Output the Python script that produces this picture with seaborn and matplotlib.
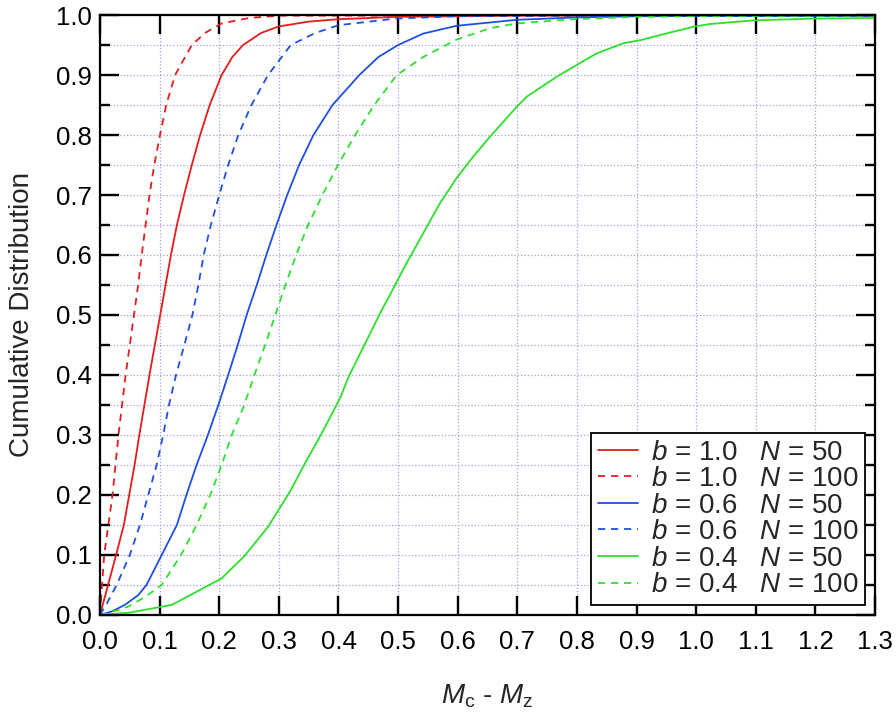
import numpy as np
import pandas as pd
import matplotlib
matplotlib.use("Agg")
import matplotlib.pyplot as plt
from matplotlib.ticker import MultipleLocator, FormatStrFormatter
import seaborn as sns

# b = 1.0, N = 50
x_b10_n50 = [0, 0.013, 0.027, 0.040, 0.049, 0.058, 0.066, 0.0745, 0.083, 0.092, 0.101, 0.110, 0.119,
             0.129, 0.141, 0.154, 0.168, 0.184, 0.204, 0.222, 0.240, 0.270, 0.300, 0.350, 0.400, 0.500,
             0.700, 1.300]
y_b10_n50 = [0, 0.048, 0.10, 0.15, 0.20, 0.25, 0.30, 0.35, 0.40, 0.45, 0.50, 0.55, 0.60,
             0.65, 0.70, 0.75, 0.80, 0.85, 0.90, 0.93, 0.95, 0.970, 0.981, 0.989, 0.993, 0.997,
             0.999, 0.999]
# b = 1.0, N = 100
x_b10_n100 = [0, 0.007, 0.021, 0.031, 0.043, 0.057, 0.064, 0.070, 0.0765, 0.083, 0.091, 0.1007, 0.111,
              0.126, 0.154, 0.176, 0.204, 0.250, 0.300, 1.300]
y_b10_n100 = [0, 0.10, 0.20, 0.30, 0.40, 0.50, 0.55, 0.60, 0.65, 0.70, 0.75, 0.80, 0.85,
              0.90, 0.95, 0.970, 0.986, 0.995, 0.999, 0.999]
# b = 0.6, N = 50
x_b06_n50 = [0, 0.020, 0.042, 0.064, 0.078, 0.1035, 0.129, 0.145, 0.162, 0.181, 0.1985, 0.215, 0.231,
             0.246, 0.263, 0.279, 0.296, 0.314, 0.334, 0.358, 0.390, 0.435, 0.467, 0.500, 0.542,
             0.598, 0.699, 0.800, 0.900, 1.300]
y_b06_n50 = [0, 0.006, 0.017, 0.033, 0.05, 0.10, 0.15, 0.20, 0.25, 0.30, 0.35, 0.40, 0.45,
             0.50, 0.55, 0.60, 0.65, 0.70, 0.75, 0.80, 0.85, 0.90, 0.930, 0.950, 0.969,
             0.982, 0.992, 0.996, 0.998, 0.999]
# b = 0.6, N = 100
x_b06_n100 = [0, 0.012, 0.028, 0.050, 0.067, 0.081, 0.095, 0.106, 0.1157, 0.1275, 0.1415, 0.155, 0.165,
              0.174, 0.186, 0.200, 0.215, 0.232, 0.254, 0.282, 0.320, 0.361, 0.400, 0.495, 0.600,
              0.800, 1.300]
y_b06_n100 = [0, 0.02, 0.05, 0.10, 0.15, 0.20, 0.25, 0.30, 0.35, 0.40, 0.45, 0.50, 0.55,
              0.60, 0.65, 0.70, 0.75, 0.80, 0.85, 0.90, 0.95, 0.970, 0.983, 0.994, 0.998,
              0.999, 0.999]
# b = 0.4, N = 50
x_b04_n50 = [0, 0.050, 0.121, 0.204, 0.242, 0.282, 0.320, 0.344, 0.372, 0.403, 0.417, 0.4725, 0.486,
             0.514, 0.542, 0.570, 0.598, 0.626, 0.654, 0.699, 0.716, 0.766, 0.800, 0.833, 0.878,
             0.906, 0.961, 0.998, 1.023, 1.096, 1.196, 1.300]
y_b04_n50 = [0, 0.004, 0.017, 0.061, 0.098, 0.147, 0.208, 0.253, 0.303, 0.362, 0.397, 0.508, 0.533,
             0.586, 0.636, 0.686, 0.728, 0.764, 0.797, 0.847, 0.864, 0.897, 0.917, 0.936, 0.953,
             0.958, 0.972, 0.981, 0.985, 0.991, 0.994, 0.995]
# b = 0.4, N = 100
x_b04_n100 = [0, 0.030, 0.0475, 0.0755, 0.1035, 0.136, 0.162, 0.185, 0.204, 0.221, 0.242, 0.259, 0.277,
              0.294, 0.311, 0.329, 0.349, 0.373, 0.399, 0.428, 0.460, 0.498, 0.542, 0.598, 0.654,
              0.699, 0.794, 0.900, 1.000, 1.300]
y_b04_n100 = [0, 0.008, 0.014, 0.030, 0.05, 0.10, 0.15, 0.20, 0.25, 0.30, 0.35, 0.40, 0.45,
              0.50, 0.55, 0.60, 0.65, 0.70, 0.75, 0.80, 0.85, 0.90, 0.930, 0.959, 0.978,
              0.986, 0.993, 0.997, 0.998, 0.999]

labels = [r"$b$ = 1.0   $N$ = 50", r"$b$ = 1.0   $N$ = 100",
          r"$b$ = 0.6   $N$ = 50", r"$b$ = 0.6   $N$ = 100",
          r"$b$ = 0.4   $N$ = 50", r"$b$ = 0.4   $N$ = 100"]
curves = [(x_b10_n50, y_b10_n50), (x_b10_n100, y_b10_n100),
          (x_b06_n50, y_b06_n50), (x_b06_n100, y_b06_n100),
          (x_b04_n50, y_b04_n50), (x_b04_n100, y_b04_n100)]
colors = ["#e41c1c", "#e41c1c", "#1f4fe0", "#1f4fe0", "#2ee02e", "#2ee02e"]
dashed = [False, True, False, True, False, True]

sns.set_style("ticks")
plt.rcParams["font.family"] = ["Liberation Sans", "DejaVu Sans"]
plt.rcParams["mathtext.fontset"] = "custom"
plt.rcParams["mathtext.rm"] = "Liberation Sans"
plt.rcParams["mathtext.it"] = "Liberation Sans:italic"
# inward ticks on all four sides
plt.rcParams.update({
    "xtick.direction": "in", "ytick.direction": "in",
    "xtick.top": True, "ytick.right": True,
    "xtick.major.size": 14, "ytick.major.size": 14,
    "xtick.minor.size": 7, "ytick.minor.size": 7,
    "xtick.major.width": 1.7, "ytick.major.width": 1.7,
    "xtick.minor.width": 1.7, "ytick.minor.width": 1.7,
    "xtick.color": "black", "ytick.color": "black",
})

fig = plt.figure(figsize=(8.96, 7.15), dpi=100)
ax = fig.add_axes([0.1116, 0.1399, 0.865, 0.8391])

for (xs, ys), lab, c, d in zip(curves, labels, colors, dashed):
    ls = (0, (4, 3.2)) if d else "-"
    sns.lineplot(x=xs, y=ys, ax=ax, color=c, linewidth=1.3, linestyle=ls, label=lab, sort=False)

ax.set_xlim(0, 1.3)
ax.set_ylim(0, 1.0)
ax.xaxis.set_major_locator(MultipleLocator(0.1))
ax.yaxis.set_major_locator(MultipleLocator(0.1))
ax.yaxis.set_minor_locator(MultipleLocator(0.05))
ax.xaxis.set_major_formatter(FormatStrFormatter("%.1f"))
ax.yaxis.set_major_formatter(FormatStrFormatter("%.1f"))

ax.grid(True, which="major", axis="x", linestyle=":", linewidth=0.9, color="#a0a0e6")
ax.grid(True, which="both", axis="y", linestyle=":", linewidth=0.9, color="#a0a0e6")

ax.tick_params(which="major", labelsize=18.5)
ax.tick_params(axis="x", pad=11)
ax.tick_params(axis="y", pad=6)
for s in ax.spines.values():
    s.set_linewidth(1.6)
    s.set_color("black")

ax.set_xlabel(r"$M_{\rm c}$ - $M_{\rm z}$", fontsize=20, labelpad=20)
ax.set_ylabel("Cumulative Distribution", fontsize=20, labelpad=15)

leg = ax.legend(loc="lower right", fontsize=20, frameon=True, fancybox=False, framealpha=1,
                edgecolor="black", handlelength=1.45, handletextpad=0.45, labelspacing=0.02,
                borderpad=0.25, borderaxespad=0.35)
leg.get_frame().set_linewidth(1.3)

fig.savefig("out.png", dpi=100)
